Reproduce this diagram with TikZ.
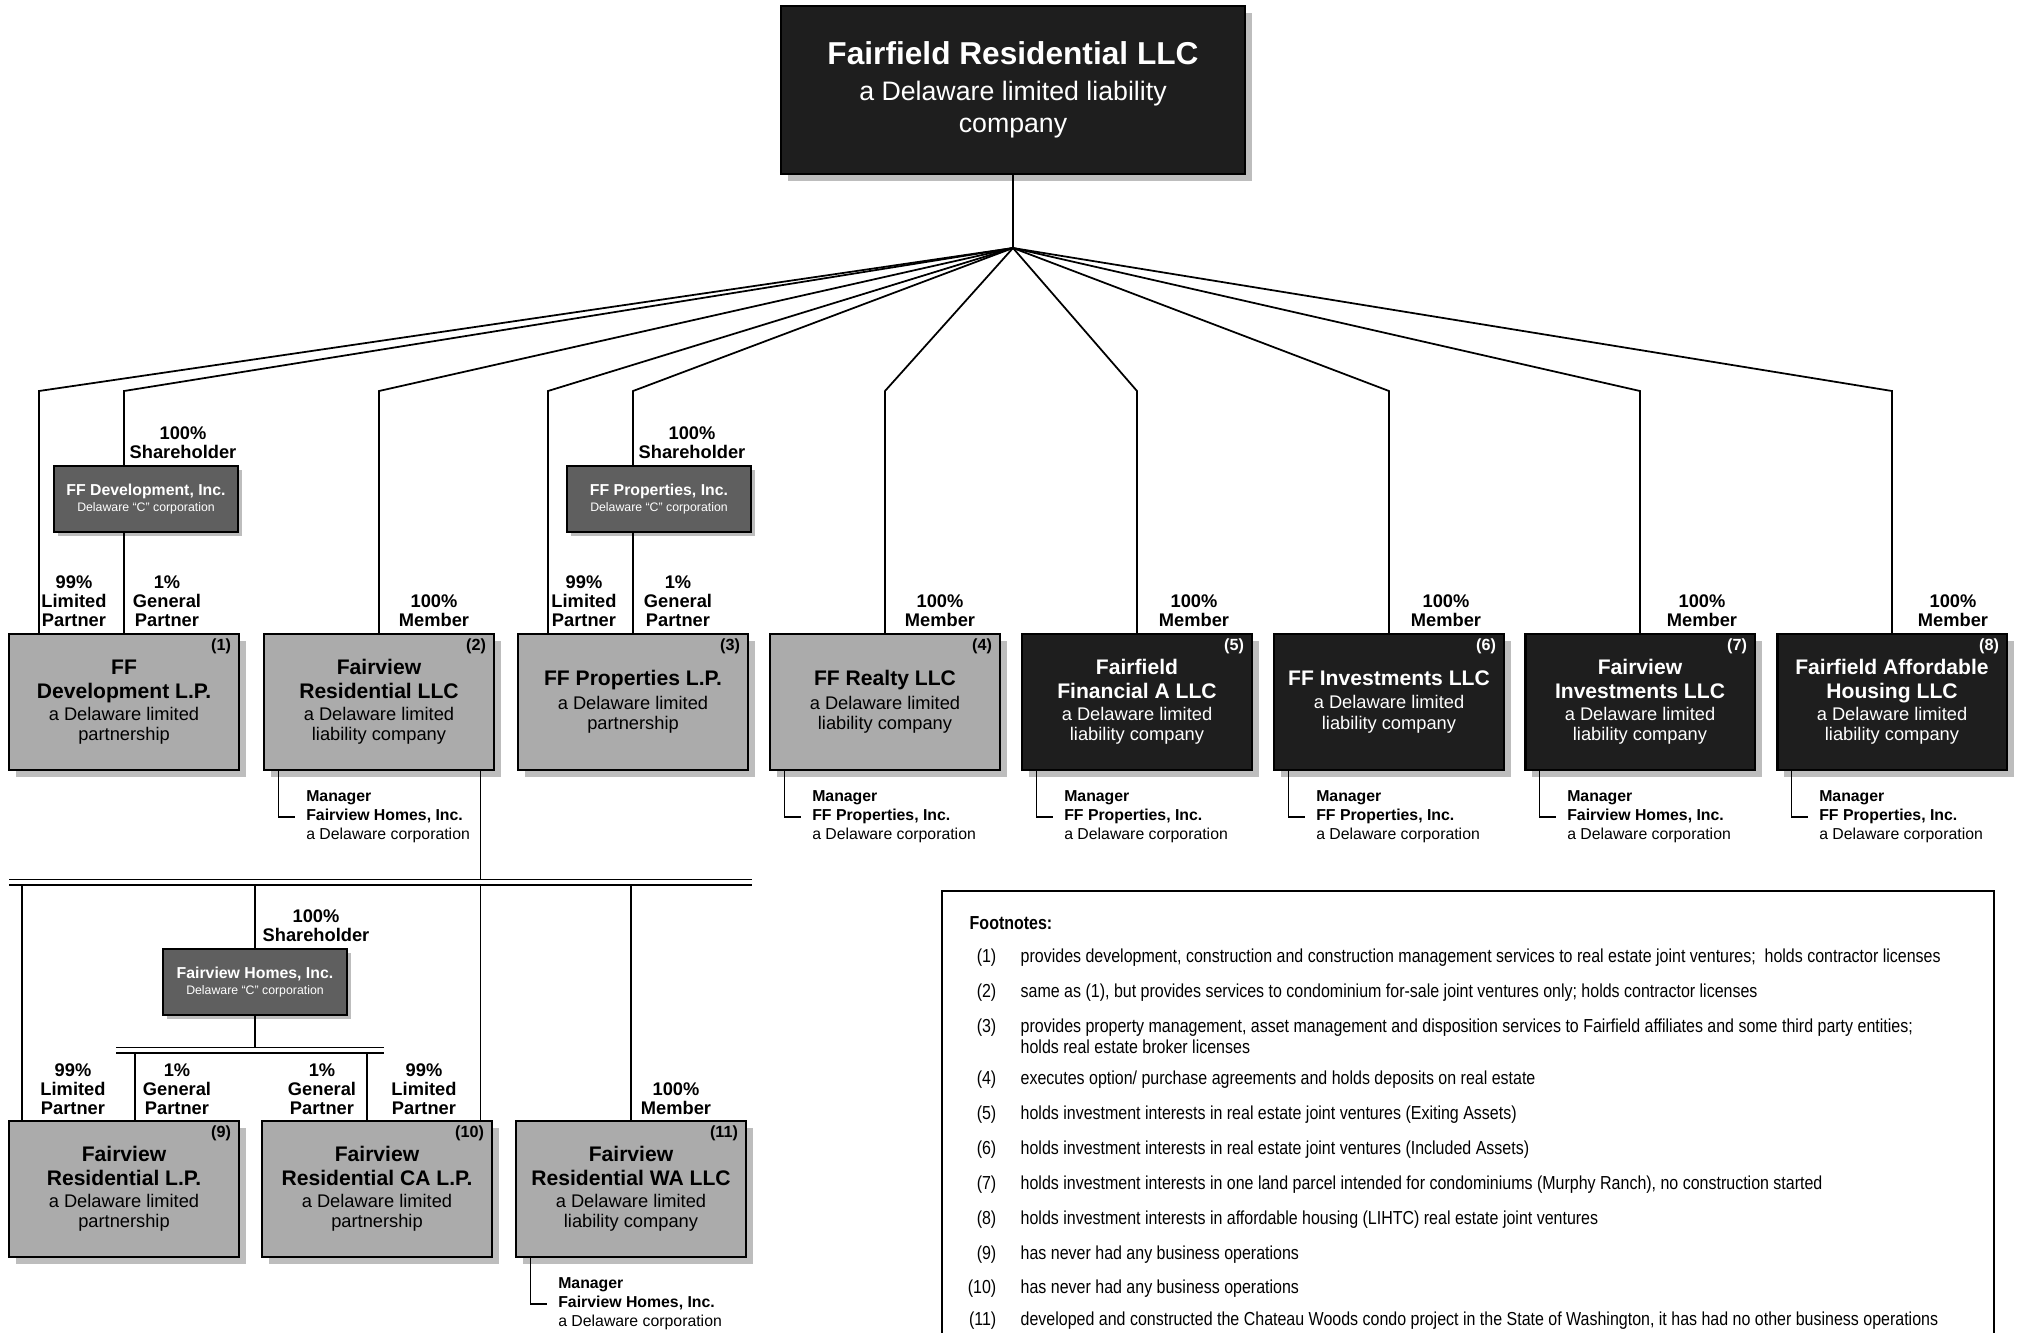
\documentclass[tikz,border=0pt]{standalone}
\usepackage{fontspec}
\setmainfont{Liberation Sans}
\newfontfamily\narrowfont[FakeStretch=0.85]{Liberation Sans}
\usetikzlibrary{shadows}
\definecolor{litegray}{HTML}{ABABAB}
\definecolor{corpgray}{HTML}{5F5F5F}
\definecolor{nearblack}{HTML}{1E1E1E}
\definecolor{shadegray}{HTML}{BDBDBD}

\newcommand{\ename}[1]{{\fontsize{6}{6.8}\selectfont\bfseries #1}}
\newcommand{\lpdesc}{a Delaware limited\\partnership}
\newcommand{\llcdesc}{a Delaware limited\\liability company}
\newcommand{\ccorp}{\\{\fontsize{3.5}{4}\selectfont\mdseries Delaware “C” corporation}}

\tikzset{
  link/.style={line width=0.5pt},
  bus/.style={double, double distance=1.1pt, line width=0.45pt},
  entity/.style={draw, line width=0.6pt, minimum width=2.29cm, minimum height=1.36cm,
    align=center, inner sep=1pt, font=\fontsize{5.2}{5.8}\selectfont,
    drop shadow={shadow xshift=0.07cm, shadow yshift=-0.07cm, fill=shadegray, opacity=1}},
  litebox/.style={entity, fill=litegray, text=black},
  darkbox/.style={entity, fill=nearblack, text=white},
  corpbox/.style={draw, line width=0.6pt, fill=corpgray, text=white, minimum width=1.84cm,
    minimum height=0.66cm, align=center, inner sep=0pt, font=\fontsize{4.5}{4.6}\selectfont\bfseries,
    drop shadow={shadow xshift=0.04cm, shadow yshift=-0.04cm, fill=shadegray, opacity=1}},
  stake/.style={anchor=south, align=center, inner sep=0pt, font=\fontsize{5.2}{5.3}\selectfont\bfseries},
  boxnum/.style={anchor=north east, inner sep=0pt, font=\fontsize{4.6}{5}\selectfont\bfseries},
  mgrnote/.style={anchor=west, align=left, inner sep=0pt, font=\fontsize{4.5}{5.4}\selectfont},
  fnum/.style={anchor=east, inner sep=0pt, font=\narrowfont\fontsize{5.35}{4.8}\selectfont},
  ftext/.style={anchor=west, align=left, inner sep=0pt, font=\narrowfont\fontsize{5.35}{4.8}\selectfont},
}

\begin{document}
\begin{tikzpicture}[x=0.01cm, y=-0.01cm]
  \useasboundingbox (0,0) rectangle (2020,1332);
  \clip (0,0) rectangle (2020,1332);

  % parent company
  \node[darkbox, minimum width=4.63cm, minimum height=1.68cm, font=\fontsize{7.6}{9.1}\selectfont] (top) at (1013,90)
    {{\fontsize{9}{10}\selectfont\bfseries Fairfield Residential LLC}\\[1pt]a Delaware limited liability\\company};

  % first tier
  \node[litebox] (b1) at (124,702) {\ename{FF}\\[1pt]\ename{Development L.P.}\\[0.4pt]\lpdesc};
  \node[litebox] (b2) at (379,702) {\ename{Fairview}\\[1pt]\ename{Residential LLC}\\[0.4pt]\llcdesc};
  \node[litebox] (b3) at (633,702) {\ename{FF Properties L.P.}\\[0.8pt]\lpdesc};
  \node[litebox] (b4) at (885,702) {\ename{FF Realty LLC}\\[0.8pt]\llcdesc};
  \node[darkbox] (b5) at (1137,702) {\ename{Fairfield}\\[1pt]\ename{Financial A LLC}\\[0.4pt]\llcdesc};
  \node[darkbox] (b6) at (1389,702) {\ename{FF Investments LLC}\\[0.8pt]\llcdesc};
  \node[darkbox] (b7) at (1640,702) {\ename{Fairview}\\[1pt]\ename{Investments LLC}\\[0.4pt]\llcdesc};
  \node[darkbox] (b8) at (1892,702) {\ename{Fairfield Affordable}\\[1pt]\ename{Housing LLC}\\[0.4pt]\llcdesc};

  % corporations holding the GP stakes
  \node[corpbox] (fdi) at (146,499) {FF Development, Inc.\ccorp};
  \node[corpbox] (fpi) at (659,499) {FF Properties, Inc.\ccorp};
  \node[corpbox] (fhi) at (255,982) {Fairview Homes, Inc.\ccorp};

  % second tier
  \node[litebox] (b9) at (124,1189) {\ename{Fairview}\\[1pt]\ename{Residential L.P.}\\[0.4pt]\lpdesc};
  \node[litebox] (b10) at (377,1189) {\ename{Fairview}\\[1pt]\ename{Residential CA L.P.}\\[0.4pt]\lpdesc};
  \node[litebox] (b11) at (631,1189) {\ename{Fairview}\\[1pt]\ename{Residential WA LLC}\\[0.4pt]\llcdesc};

  \foreach \b/\n in {b1/1, b2/2, b3/3, b4/4, b9/9, b10/10, b11/11}
    \node[boxnum] (\b-num) at ([xshift=-0.08cm, yshift=-0.05cm]\b.north east) {(\n)};
  \foreach \b/\n in {b5/5, b6/6, b7/7, b8/8}
    \node[boxnum, text=white] (\b-num) at ([xshift=-0.08cm, yshift=-0.05cm]\b.north east) {(\n)};

  % fan out of the parent
  \coordinate (hub) at (1013,248);
  \coordinate (knee) at (0,391);
  \coordinate (t1) at ([xshift=-0.85cm]b1.north);
  \coordinate (t3) at ([xshift=-0.85cm]b3.north);
  \draw[link] (top) -- (hub);
  \foreach \t in {t1, t3}
    \draw[link] (hub) -- (\t |- knee) -- (\t);
  \foreach \t in {b2, b4, b5, b6, b7, b8}
    \draw[link] (hub) -- (\t.north |- knee) -- (\t.north);
  \draw[link] (hub) -- (b1.north |- knee) -- (b1.north |- fdi.north);
  \draw[link] (b1.north |- fdi.south) -- (b1.north);
  \draw[link] (hub) -- (b3.north |- knee) -- (b3.north |- fpi.north);
  \draw[link] (b3.north |- fpi.south) -- (b3.north);

  % ownership labels, first tier
  \node[stake] (sh1) at (183,459) {100\%\\Shareholder};
  \node[stake] (sh3) at (692,459) {100\%\\Shareholder};
  \node[stake] (lp1) at (74,627) {99\%\\Limited\\Partner};
  \node[stake] (gp1) at (167,627) {1\%\\General\\Partner};
  \node[stake] (lp3) at (584,627) {99\%\\Limited\\Partner};
  \node[stake] (gp3) at (678,627) {1\%\\General\\Partner};
  \foreach \b/\xx in {b2/434, b4/940, b5/1194, b6/1446, b7/1702, b8/1953}
    \node[stake] (\b-own) at (\xx,627) {100\%\\Member};

  % managers
  \foreach \b/\who in {b2/{Fairview Homes, Inc.}, b4/{FF Properties, Inc.}, b5/{FF Properties, Inc.},
                       b6/{FF Properties, Inc.}, b7/{Fairview Homes, Inc.}, b8/{FF Properties, Inc.},
                       b11/{Fairview Homes, Inc.}}
    \draw[link] ([xshift=0.15cm]\b.south west) |- ++(0.17cm,-0.46cm)
      node[mgrnote, right=0.1cm] (\b-mgr) {\textbf{Manager}\\\textbf{\who}\\a Delaware corporation};

  % second tier wiring
  \coordinate (busL) at (9,882);
  \coordinate (busR) at (752,882);
  \coordinate (bus2L) at (116,1050);
  \coordinate (bus2R) at (384,1050);
  \coordinate (r2) at ([xshift=-0.14cm]b2.south east);
  \coordinate (l9) at ([xshift=-1.02cm]b9.north);
  \coordinate (g9) at ([xshift=0.11cm]b9.north);
  \coordinate (g10) at ([xshift=-0.10cm]b10.north);
  \draw[link] (r2) -- (r2 |- b10.north);
  \draw[link] (l9 |- busL) -- (l9);
  \draw[link] (fhi.north |- busL) -- (fhi.north);
  \draw[link] (b11.north |- busL) -- (b11.north);
  \draw[link] (fhi.south) -- (fhi.south |- bus2L);
  \draw[link] (g9 |- bus2L) -- (g9);
  \draw[link] (g10 |- bus2L) -- (g10);
  \draw[bus] (busL) -- (busR);
  \draw[bus] (bus2L) -- (bus2R);

  % ownership labels, second tier
  \node[stake] (sh9) at (316,942) {100\%\\Shareholder};
  \node[stake] (lp9) at (73,1115) {99\%\\Limited\\Partner};
  \node[stake] (gp9) at (177,1115) {1\%\\General\\Partner};
  \node[stake] (gp10) at (322,1115) {1\%\\General\\Partner};
  \node[stake] (lp10) at (424,1115) {99\%\\Limited\\Partner};
  \node[stake] (b11-own) at (676,1115) {100\%\\Member};

  % footnotes
  \draw[line width=0.6pt] (942,891) rectangle (1994,1420);
  \node[ftext] (fhead) at (969,923) {\bfseries Footnotes:};
  \foreach \n/\yy/\txt in {
      1/958/{provides development, construction and construction management services to real estate joint ventures;\ \ holds contractor licenses},
      2/993/{same as (1), but provides services to condominium for-sale joint ventures only; holds contractor licenses},
      4/1080/{executes option/ purchase agreements and holds deposits on real estate},
      5/1115/{holds investment interests in real estate joint ventures (Exiting Assets)},
      6/1150/{holds investment interests in real estate joint ventures (Included Assets)},
      7/1185/{holds investment interests in one land parcel intended for condominiums (Murphy Ranch), no construction started},
      8/1220/{holds investment interests in affordable housing (LIHTC) real estate joint ventures},
      9/1255/{has never had any business operations},
      10/1289/{has never had any business operations},
      11/1321/{developed and constructed the Chateau Woods condo project in the State of Washington, it has had no other business operations}}
  {
    \node[fnum] (fn\n) at (997,\yy) {(\n)};
    \node[ftext] (ft\n) at (1020,\yy) {\txt};
  }
  \node[fnum] (fn3) at (997,1028) {(3)};
  \node[ftext] (ft3) at (1020,1036) {provides property management, asset management and disposition services to Fairfield affiliates and some third party entities;\\holds real estate broker licenses};
\end{tikzpicture}
\end{document}
